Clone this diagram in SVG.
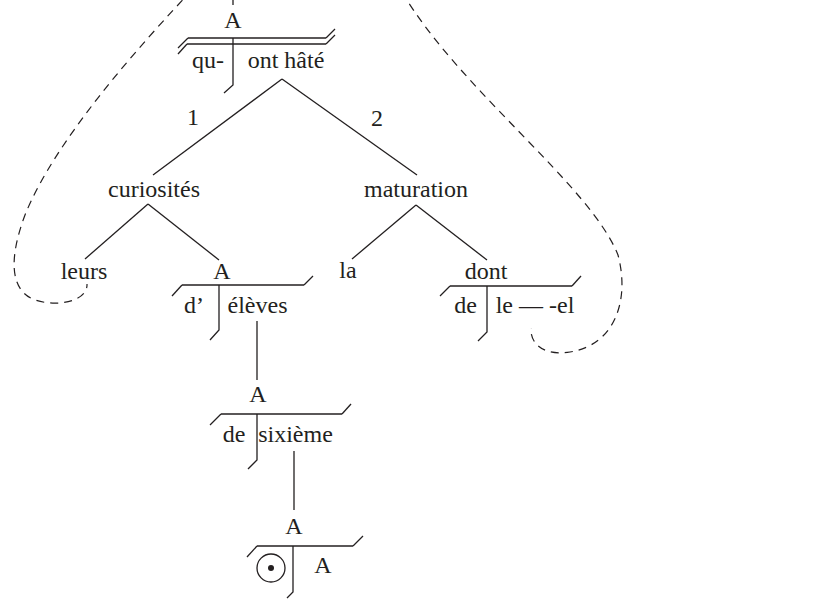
<svg xmlns="http://www.w3.org/2000/svg" width="821" height="600" viewBox="0 0 821 600">
  <style>
    text { font-family: 'Liberation Serif', 'DejaVu Serif', 'Noto Serif', serif; font-size: 24px; fill: #231f20; text-anchor: middle; }
    .ln { stroke: #231f20; stroke-width: 1.3; fill: none; stroke-linecap: butt; }
    .dash { stroke: #231f20; stroke-width: 1.2; fill: none; stroke-dasharray: 8 6; }
  </style>
  <rect width="821" height="600" fill="#ffffff"/>

  <!-- connectors: tree branches, stems and anaphoric loops -->
  <g id="connectors">
    <line class="ln" x1="233" y1="0" x2="233" y2="5"/>
    <line class="ln" x1="282" y1="79" x2="153" y2="175"/>
    <line class="ln" x1="282" y1="79" x2="417" y2="175"/>
    <line class="ln" x1="148" y1="204" x2="85" y2="259"/>
    <line class="ln" x1="148" y1="204" x2="219" y2="260"/>
    <line class="ln" x1="416" y1="205" x2="352" y2="259"/>
    <line class="ln" x1="416" y1="205" x2="487" y2="260"/>
    <line class="ln" x1="257" y1="321" x2="257" y2="380"/>
    <line class="ln" x1="294" y1="451" x2="294" y2="510"/>
    <text x="193" y="125" font-family="Liberation Serif, serif">1</text>
    <text x="377" y="126" font-family="Liberation Serif, serif">2</text>
    <path class="dash" d="M 192,-10 C 140,45 55,140 25,215 C 10,255 8,290 35,300 C 60,308 88,300 87,284"/>
    <path class="dash" d="M 402,-8 C 460,90 590,185 618,255 C 630,300 615,345 570,352 C 545,356 530,345 531,328"/>
  </g>

  <!-- translative node: qu- | ont hâté (double bar) -->
  <g id="node-ont-hate">
    <text x="233" y="28">A</text>
    <line class="ln" x1="188" y1="38" x2="326" y2="38"/>
    <line class="ln" x1="187" y1="44" x2="326" y2="44"/>
    <line class="ln" x1="188" y1="38" x2="178" y2="48"/>
    <line class="ln" x1="187" y1="44" x2="178" y2="54"/>
    <line class="ln" x1="326" y1="38" x2="335" y2="29"/>
    <line class="ln" x1="326" y1="44" x2="335" y2="35"/>
    <polyline class="ln" points="233,38 233,85 224,93"/>
    <text x="208" y="68">qu-</text>
    <text x="286" y="68">ont hâté</text>
  </g>

  <g id="node-curiosites">
    <text x="154" y="197">curiosités</text>
  </g>

  <g id="node-maturation">
    <text x="416" y="197">maturation</text>
  </g>

  <g id="node-leurs">
    <text x="84" y="279">leurs</text>
  </g>

  <g id="node-la">
    <text x="348" y="278">la</text>
  </g>

  <!-- translative node: d' | élèves -->
  <g id="node-eleves">
    <text x="222" y="279">A</text>
    <line class="ln" x1="182" y1="285" x2="304" y2="285"/>
    <line class="ln" x1="182" y1="285" x2="172" y2="296"/>
    <line class="ln" x1="304" y1="285" x2="313" y2="276"/>
    <polyline class="ln" points="219,285 219,330 210,340"/>
    <text x="194" y="313">d’</text>
    <text x="257.5" y="313">élèves</text>
  </g>

  <!-- translative node: de | le — -el -->
  <g id="node-dont">
    <text x="486" y="279">dont</text>
    <line class="ln" x1="450" y1="286" x2="572" y2="286"/>
    <line class="ln" x1="450" y1="286" x2="440" y2="296"/>
    <line class="ln" x1="572" y1="286" x2="581" y2="276"/>
    <polyline class="ln" points="487,286 487,332 478,341"/>
    <text x="465.5" y="313">de</text>
    <text x="535" y="313">le — -el</text>
  </g>

  <!-- translative node: de | sixième -->
  <g id="node-sixieme">
    <text x="258" y="402">A</text>
    <line class="ln" x1="221" y1="414" x2="342" y2="414"/>
    <line class="ln" x1="221" y1="414" x2="210" y2="425"/>
    <line class="ln" x1="342" y1="414" x2="351" y2="404"/>
    <polyline class="ln" points="257,414 257,460 248,469"/>
    <text x="234" y="442">de</text>
    <text x="295.5" y="442">sixième</text>
  </g>

  <!-- translative node: zero translator | A -->
  <g id="node-zero">
    <text x="294" y="534">A</text>
    <line class="ln" x1="257" y1="546" x2="353" y2="546"/>
    <line class="ln" x1="257" y1="546" x2="247" y2="557"/>
    <line class="ln" x1="353" y1="546" x2="363" y2="536"/>
    <polyline class="ln" points="293,546 293,592 287,598"/>
    <circle class="ln" cx="271" cy="568" r="14"/>
    <circle cx="271" cy="568" r="3" fill="#231f20"/>
    <text x="323" y="573">A</text>
  </g>
</svg>
